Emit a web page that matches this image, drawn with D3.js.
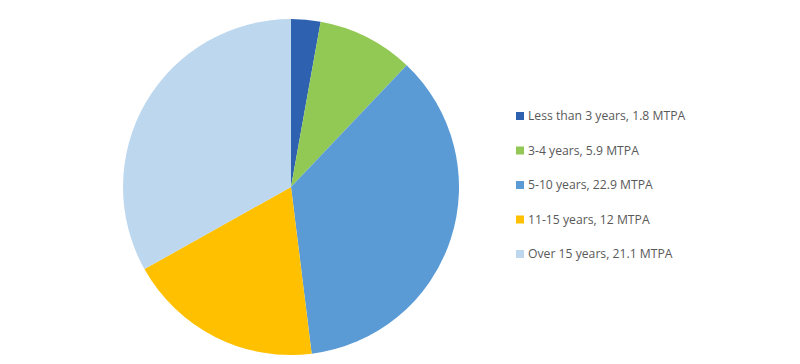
<!DOCTYPE html>
<html><head><meta charset="utf-8">
<script src="https://cdn.jsdelivr.net/npm/d3@7"></script>
<style>body{margin:0;background:#fff}</style>
</head><body>
<svg id="c" width="800" height="364"></svg>
<script>
const categories = ["Less than 3 years", "3-4 years", "5-10 years", "11-15 years", "Over 15 years"];
const values = [1.8, 5.9, 22.9, 12, 21.1];
const colors = ["#2E62B0", "#92C955", "#5B9BD5", "#FFC000", "#BDD7EE"];
const labels = ["Less than 3 years, 1.8 MTPA", "3-4 years, 5.9 MTPA", "5-10 years, 22.9 MTPA", "11-15 years, 12 MTPA", "Over 15 years, 21.1 MTPA"];

const svg = d3.select("#c");
const cx = 291, cy = 187, r = 168;
const pie = d3.pie().sort(null).value(d => d)(values);
const arc = d3.arc().innerRadius(0).outerRadius(r);
svg.append("g").attr("transform", `translate(${cx},${cy})`)
  .selectAll("path").data(pie).join("path")
  .attr("d", arc).attr("fill", (d, i) => colors[i]);

const ly = d3.scalePoint().domain(categories).range([116, 254]);
const lg = svg.append("g");
categories.forEach((c, i) => {
  const y = ly(c);
  lg.append("rect").attr("x", 516).attr("y", y - 4).attr("width", 8).attr("height", 8).attr("fill", colors[i]);
  lg.append("text").attr("x", 528).attr("y", y).attr("dy", "0.35em")
    .attr("font-family", "Open Sans, sans-serif").attr("font-size", 12.2).attr("fill", "#595959").text(labels[i]);
});
</script>
</body></html>
